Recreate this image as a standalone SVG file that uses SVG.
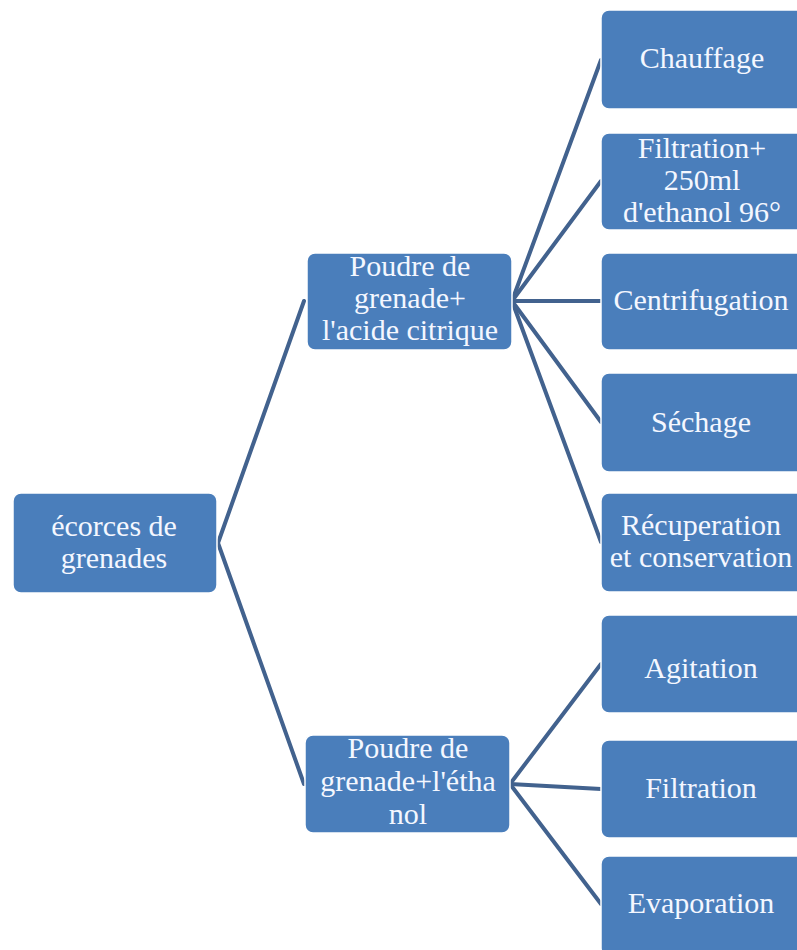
<svg xmlns="http://www.w3.org/2000/svg" width="797" height="950" viewBox="0 0 797 950">
<style>
.box{fill:#4a7ebb;stroke:#ffffff;stroke-width:1.5}
.t{font-family:"Liberation Serif","Times New Roman",serif;font-size:30px;fill:#f4f7ff;text-anchor:middle}
.c{stroke:#42628e;stroke-width:4;fill:none;stroke-linecap:round}
</style>
<rect width="797" height="950" fill="#ffffff"/>
<g id="connectors">
<line class="c" x1="218" y1="543" x2="304" y2="301"/>
<line class="c" x1="218" y1="543" x2="304" y2="784"/>
<line class="c" x1="512" y1="301" x2="601" y2="60"/>
<line class="c" x1="512" y1="301" x2="601" y2="181"/>
<line class="c" x1="512" y1="301" x2="601" y2="301"/>
<line class="c" x1="512" y1="301" x2="601" y2="422"/>
<line class="c" x1="512" y1="301" x2="601" y2="542"/>
<line class="c" x1="510" y1="784" x2="601" y2="664"/>
<line class="c" x1="510" y1="784" x2="601" y2="789"/>
<line class="c" x1="510" y1="784" x2="601" y2="904"/>
</g>
<g id="root">
<rect class="box" x="13" y="493" width="204" height="100" rx="8"/>
<text class="t" x="114" y="536">écorces de</text>
<text class="t" x="114" y="568">grenades</text>
</g>
<g id="mid1">
<rect class="box" x="307" y="253" width="205" height="97" rx="8"/>
<text class="t" x="410" y="276">Poudre de</text>
<text class="t" x="410" y="308">grenade+</text>
<text class="t" x="410" y="340">l'acide citrique</text>
</g>
<g id="mid2">
<rect class="box" x="305" y="735" width="205" height="98" rx="8"/>
<text class="t" x="408" y="758">Poudre de</text>
<text class="t" x="408" y="791">grenade+l'étha</text>
<text class="t" x="408" y="824">nol</text>
</g>
<g id="leaf1">
<rect class="box" x="601" y="10" width="204" height="99" rx="8"/>
<text class="t" x="702" y="68">Chauffage</text>
</g>
<g id="leaf2">
<rect class="box" x="601" y="133" width="204" height="97" rx="8"/>
<text class="t" x="702" y="158">Filtration+</text>
<text class="t" x="702" y="190">250ml</text>
<text class="t" x="702" y="222">d'ethanol 96°</text>
</g>
<g id="leaf3">
<rect class="box" x="601" y="253" width="204" height="97" rx="8"/>
<text class="t" x="701" y="310">Centrifugation</text>
</g>
<g id="leaf4">
<rect class="box" x="601" y="373" width="204" height="99" rx="8"/>
<text class="t" x="701" y="432">Séchage</text>
</g>
<g id="leaf5">
<rect class="box" x="601" y="493" width="204" height="99" rx="8"/>
<text class="t" x="701" y="535">Récuperation</text>
<text class="t" x="701" y="567">et conservation</text>
</g>
<g id="leaf6">
<rect class="box" x="601" y="615" width="204" height="98" rx="8"/>
<text class="t" x="701" y="678">Agitation</text>
</g>
<g id="leaf7">
<rect class="box" x="601" y="740" width="204" height="98" rx="8"/>
<text class="t" x="701" y="798">Filtration</text>
</g>
<g id="leaf8">
<rect class="box" x="601" y="856" width="204" height="100" rx="8"/>
<text class="t" x="701" y="913">Evaporation</text>
</g>
</svg>
